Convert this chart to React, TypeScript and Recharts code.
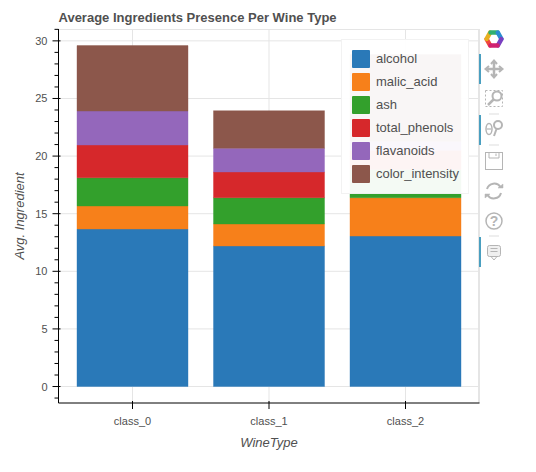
import { Bar, BarChart, CartesianGrid, XAxis, YAxis } from "recharts";

const wineTypes = ["class_0", "class_1", "class_2"];
const alcohol = [13.67, 12.2, 13.06];
const malicAcid = [2.0, 1.91, 3.33];
const ash = [2.45, 2.28, 2.44];
const totalPhenols = [2.84, 2.23, 1.68];
const flavanoids = [2.95, 2.06, 0.78];
const colorIntensity = [5.68, 3.26, 7.53];

const seriesNames = ["alcohol", "malic_acid", "ash", "total_phenols", "flavanoids", "color_intensity"];
const seriesValues = [alcohol, malicAcid, ash, totalPhenols, flavanoids, colorIntensity];
const seriesColors = ["#2a79b8", "#f7801a", "#33a02c", "#d6282b", "#9467bb", "#8c574b"];

const yTicks = [-1, 0, 1, 2, 3, 4, 5, 6, 7, 8, 9, 10, 11, 12, 13, 14, 15, 16, 17, 18, 19, 20, 21, 22, 23, 24, 25, 26, 27, 28, 29, 30, 31];
const yGridValues = [0, 5, 10, 15, 20, 25, 30];

const data = wineTypes.map((name, i) => {
  const row: Record<string, string | number> = { name };
  seriesNames.forEach((s, j) => {
    row[s] = seriesValues[j][i];
  });
  return row;
});

const FONT = '"Liberation Sans", Helvetica, Arial, sans-serif';
const TEXT = "#505050";
const GRID = "#e5e5e5";
const ICON = "#b5b5b5";

function YTick({ x, y, payload }: any) {
  const major = payload.value % 5 === 0;
  return (
    <g>
      <line x1={x - (major ? 6 : 4)} x2={major ? x + 2 : x} y1={y} y2={y} stroke="#000" strokeWidth={1} />
      {major ? (
        <text x={x - 11} y={y} dy={0} textAnchor="end" dominantBaseline="central" fontSize={11} fontFamily={FONT} fill={TEXT}>
          {payload.value}
        </text>
      ) : null}
    </g>
  );
}

function XTick({ x, y, payload }: any) {
  return (
    <g>
      <line x1={x} x2={x} y1={y - 2} y2={y + 6} stroke="#000" strokeWidth={1} />
      <text x={x} y={y + 22} textAnchor="middle" fontSize={11} fontFamily={FONT} fill={TEXT}>
        {payload.value}
      </text>
    </g>
  );
}

function WineLegend() {
  return (
    <div
      style={{
        position: "absolute",
        left: 341,
        top: 39,
        width: 128,
        height: 155,
        boxSizing: "border-box",
        background: "rgba(255,255,255,0.95)",
        border: "1px solid rgba(229,229,229,0.5)",
        paddingTop: 7,
        paddingLeft: 10,
      }}
    >
      {seriesNames.map((name, i) => (
        <div key={name} style={{ display: "flex", alignItems: "center", height: 23, fontFamily: FONT, fontSize: 13, color: TEXT }}>
          <span style={{ width: 18, height: 18, background: seriesColors[i], marginRight: 6, borderRadius: 1 }} />
          <span style={{ whiteSpace: "nowrap" }}>{name}</span>
        </div>
      ))}
    </div>
  );
}

function Toolbar() {
  return (
    <svg width={30} height={240} viewBox="478 30 30 240" style={{ position: "absolute", left: 478, top: 30 }}>
      {[54, 115, 237].map((y) => (
        <rect key={y} x={479} y={y} width={2} height={30} fill="#4a9fc0" />
      ))}
      {[114, 145, 236].map((y) => (
        <line key={y} x1={489} x2={499} y1={y} y2={y} stroke="#dddddd" />
      ))}
      {["#f0483a", "#e8b020", "#30b070", "#2b8cd0", "#7a3fc0", "#d02070"].map((c, i) => (
        <path
          key={c}
          d="M490.5 32.5 L497.5 32.5"
          stroke={c}
          strokeWidth={4.5}
          strokeLinecap="round"
          transform={`rotate(${i * 60 - 120} 494 39)`}
        />
      ))}
      <g fill="none" stroke={ICON} strokeWidth={2}>
        <path d="M494 61 V77 M486 69 H502" strokeWidth={2.5} />
        <path d="M491 64 L494 60.5 L497 64 M491 74 L494 77.5 L497 74 M489 66 L485.5 69 L489 72 M499 66 L502.5 69 L499 72" strokeWidth={2} />
        <rect x={485.5} y={90.5} width={17} height={16} strokeDasharray="2 2" strokeWidth={1} />
        <circle cx={497} cy={96} r={4.5} />
        <path d="M493.5 99.5 L488 105" strokeWidth={2.5} />
        <ellipse cx={489} cy={129} rx={3} ry={5.5} strokeWidth={1.5} />
        <path d="M487 129 H491" strokeWidth={1.2} />
        <circle cx={498} cy={125} r={4} />
        <path d="M496.5 129 L494 136" strokeWidth={2} />
        <rect x={485.5} y={152.5} width={17} height={17} strokeWidth={1} />
        <path d="M489 153 V158 H499 V153 M496 153.5 V156" strokeWidth={1} />
        <path d="M487 189 A7.5 7.5 0 0 1 500.5 187 M501 193 A7.5 7.5 0 0 1 487.5 195" />
        <path d="M498 188 H503 V184 Z M490 194 H485 V198 Z" fill={ICON} strokeWidth={0.5} />
        <circle cx={494} cy={221} r={8} strokeWidth={1.5} />
        <rect x={487.5} y={245.5} width={13} height={11} rx={2} strokeWidth={1} fill="#f0f0f0" />
        <path d="M490.5 248.5 H497.5 M490.5 251.5 H497.5 M491 256.5 L494 260 L497 256.5" strokeWidth={1} />
      </g>
      <text x={494} y={226} textAnchor="middle" fontSize={14} fontWeight="bold" fontFamily={FONT} fill={ICON}>
        ?
      </text>
    </svg>
  );
}

export default function App() {
  return (
    <div style={{ position: "absolute", left: 0, top: 0, width: 536, height: 472, background: "#fff" }}>
      <div style={{ position: "absolute", left: 58, top: 29, width: 421, height: 374, boxSizing: "border-box", borderTop: `1px solid ${GRID}`, borderRight: `1px solid ${GRID}` }} />
      <div style={{ position: "absolute", left: 58.5, top: 10, fontFamily: FONT, fontSize: 13, lineHeight: "16px", fontWeight: "bold", color: TEXT }}>
        Average Ingredients Presence Per Wine Type
      </div>
      <BarChart
        width={536}
        height={472}
        data={data}
        margin={{ top: 29, right: 56.5, bottom: 0, left: 0 }}
        barCategoryGap={12.75}
        style={{ position: "absolute", left: 0, top: 0 }}
      >
        <CartesianGrid stroke={GRID} horizontalValues={yGridValues} />
        <XAxis
          dataKey="name"
          height={69}
          padding={{ left: 5.75, right: 5.75 }}
          stroke="#000"
          tickLine={false}
          tick={<XTick />}
          tickSize={0}
          tickMargin={0}
          interval={0}
          label={{ value: "WineType", position: "insideBottom", offset: 25, fontFamily: FONT, fontSize: 13, fontStyle: "italic", fill: TEXT }}
        />
        <YAxis
          type="number"
          width={58.5}
          domain={[-1.43, 31.03]}
          allowDataOverflow
          ticks={yTicks}
          interval={0}
          stroke="#000"
          tickLine={false}
          tick={<YTick />}
          tickSize={0}
          tickMargin={0}
          label={{ value: "Avg. Ingredient", angle: -90, position: "insideLeft", offset: 19, style: { textAnchor: "middle" }, fontFamily: FONT, fontSize: 13, fontStyle: "italic", fill: TEXT }}
        />
        {seriesNames.map((name, i) => (
          <Bar
            key={name}
            dataKey={name}
            stackId="wine"
            fill={seriesColors[i]}
            fillOpacity={1}
            stroke={seriesColors[i]}
            strokeOpacity={0.4}
            isAnimationActive={false}
          />
        ))}
      </BarChart>
      <WineLegend />
      <Toolbar />
    </div>
  );
}
